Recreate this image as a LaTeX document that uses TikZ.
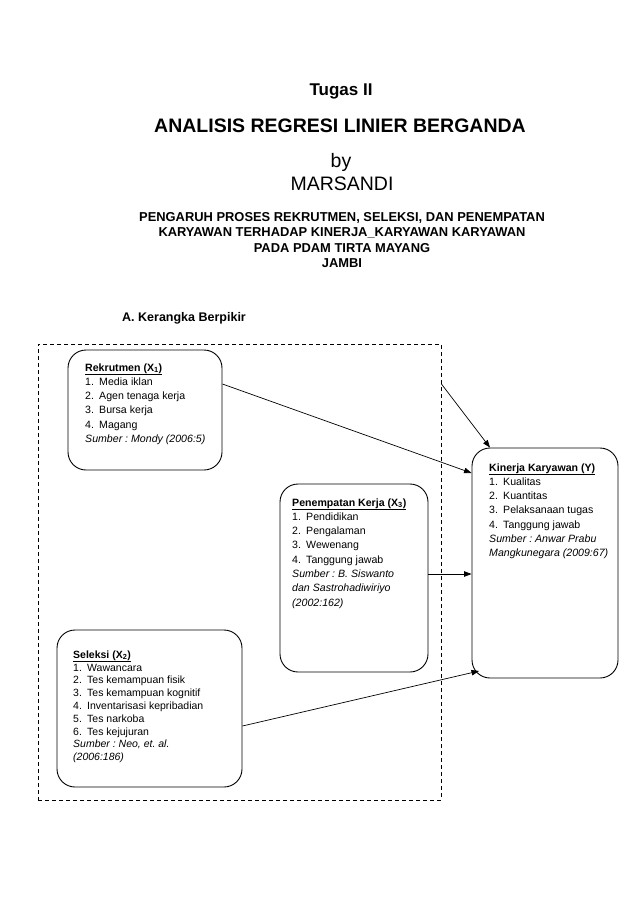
\documentclass[tikz,border=0pt]{standalone}
\usepackage{fontspec}
\setmainfont{Liberation Sans}
\usetikzlibrary{arrows.meta,calc}
\newcommand{\itm}[2]{\makebox[14pt][l]{#1}#2}
\frenchspacing
\begin{document}
\begin{tikzpicture}[x=1pt,y=-1pt,
  box/.style={draw, rounded corners=18pt, line width=0.9pt, inner sep=0pt},
  conn/.style={-{Triangle[length=7.5pt,width=5.5pt]}, line width=0.7pt},
  txt/.style={inner sep=0pt, anchor=base west, font=\fontsize{10.6}{14.3}\selectfont},
  ttl/.style={inner sep=0pt, anchor=base}]
\useasboundingbox[fill=white] (0,0) rectangle (638,903);

% titles
\node[ttl, font=\bfseries\fontsize{17}{20}\selectfont] (t1) at (341,95) {Tugas II};
\node[ttl, font=\bfseries\fontsize{19.5}{23}\selectfont] (t2) at (340,132) {ANALISIS REGRESI LINIER BERGANDA};
\node[ttl, font=\fontsize{19.5}{23}\selectfont] (t3) at (341,167) {by};
\node[ttl, font=\fontsize{19.5}{23}\selectfont] (t4) at (342,190) {MARSANDI};
\node[ttl, font=\bfseries\fontsize{12.9}{15.6}\selectfont] (t5) at (342,221)
  {\begin{tabular}[t]{@{}c@{}}PENGARUH PROSES REKRUTMEN, SELEKSI, DAN PENEMPATAN\\
   KARYAWAN TERHADAP KINERJA\_KARYAWAN KARYAWAN\\ PADA PDAM TIRTA MAYANG\\ JAMBI\end{tabular}};
\node[inner sep=0pt, anchor=base west, font=\bfseries\fontsize{12.5}{15}\selectfont] (ka) at (122,321) {A.\ Kerangka Berpikir};

% dashed frame
\node[draw, dash pattern=on 4pt off 3pt, line width=0.9pt, inner sep=0pt,
      minimum width=403pt, minimum height=456pt] (frame) at (239.5,572) {};

% boxes
\node[box, minimum width=154pt, minimum height=120pt] (rek) at (145,410) {};
\node[box, minimum width=148pt, minimum height=188pt] (pen) at (354,578) {};
\node[box, minimum width=146pt, minimum height=230pt] (kin) at (545,563) {};
\node[box, minimum width=185pt, minimum height=157pt] (sel) at (149.5,708.5) {};

% box texts
\node[txt] (rekT) at (85,371) {\begin{tabular}[t]{@{}l@{}}
  \textbf{\underline{Rekrutmen (X\textsubscript{1})}}\\
  \itm{1.}{Media iklan}\\ \itm{2.}{Agen tenaga kerja}\\ \itm{3.}{Bursa kerja}\\ \itm{4.}{Magang}\\
  \textit{Sumber : Mondy (2006:5)}\end{tabular}};
\node[txt] (penT) at (292,506) {\begin{tabular}[t]{@{}l@{}}
  \textbf{\underline{Penempatan Kerja (X\textsubscript{3})}}\\
  \itm{1.}{Pendidikan}\\ \itm{2.}{Pengalaman}\\ \itm{3.}{Wewenang}\\ \itm{4.}{Tanggung jawab}\\
  \textit{Sumber : B. Siswanto}\\ \textit{dan Sastrohadiwiriyo}\\ \textit{(2002:162)}\end{tabular}};
\node[txt] (kinT) at (489,471) {\begin{tabular}[t]{@{}l@{}}
  \textbf{\underline{Kinerja Karyawan (Y)}}\\
  \itm{1.}{Kualitas}\\ \itm{2.}{Kuantitas}\\ \itm{3.}{Pelaksanaan tugas}\\ \itm{4.}{Tanggung jawab}\\
  \textit{Sumber : Anwar Prabu}\\ \textit{Mangkunegara (2009:67)}\end{tabular}};
\node[txt, font=\fontsize{10.5}{12.8}\selectfont] (selT) at (73,658) {\begin{tabular}[t]{@{}l@{}}
  \textbf{\underline{Seleksi (X\textsubscript{2})}}\\
  \itm{1.}{Wawancara}\\ \itm{2.}{Tes kemampuan fisik}\\ \itm{3.}{Tes kemampuan kognitif}\\
  \itm{4.}{Inventarisasi kepribadian}\\ \itm{5.}{Tes narkoba}\\ \itm{6.}{Tes kejujuran}\\
  \textit{Sumber : Neo, et. al.}\\ \textit{(2006:186)}\end{tabular}};

% connectors
\coordinate (kinBL) at (479,671);
\draw[conn] (rek.east |- 0,384) -- (kin.west |- 0,473);
\draw[conn] (frame.east |- 0,384) -- (490,0 |- kin.north);
\draw[conn] (pen.east |- 0,574) -- (kin.west |- 0,574);
\draw[conn] (sel.east |- 0,726) -- (kinBL);
\end{tikzpicture}
\end{document}
